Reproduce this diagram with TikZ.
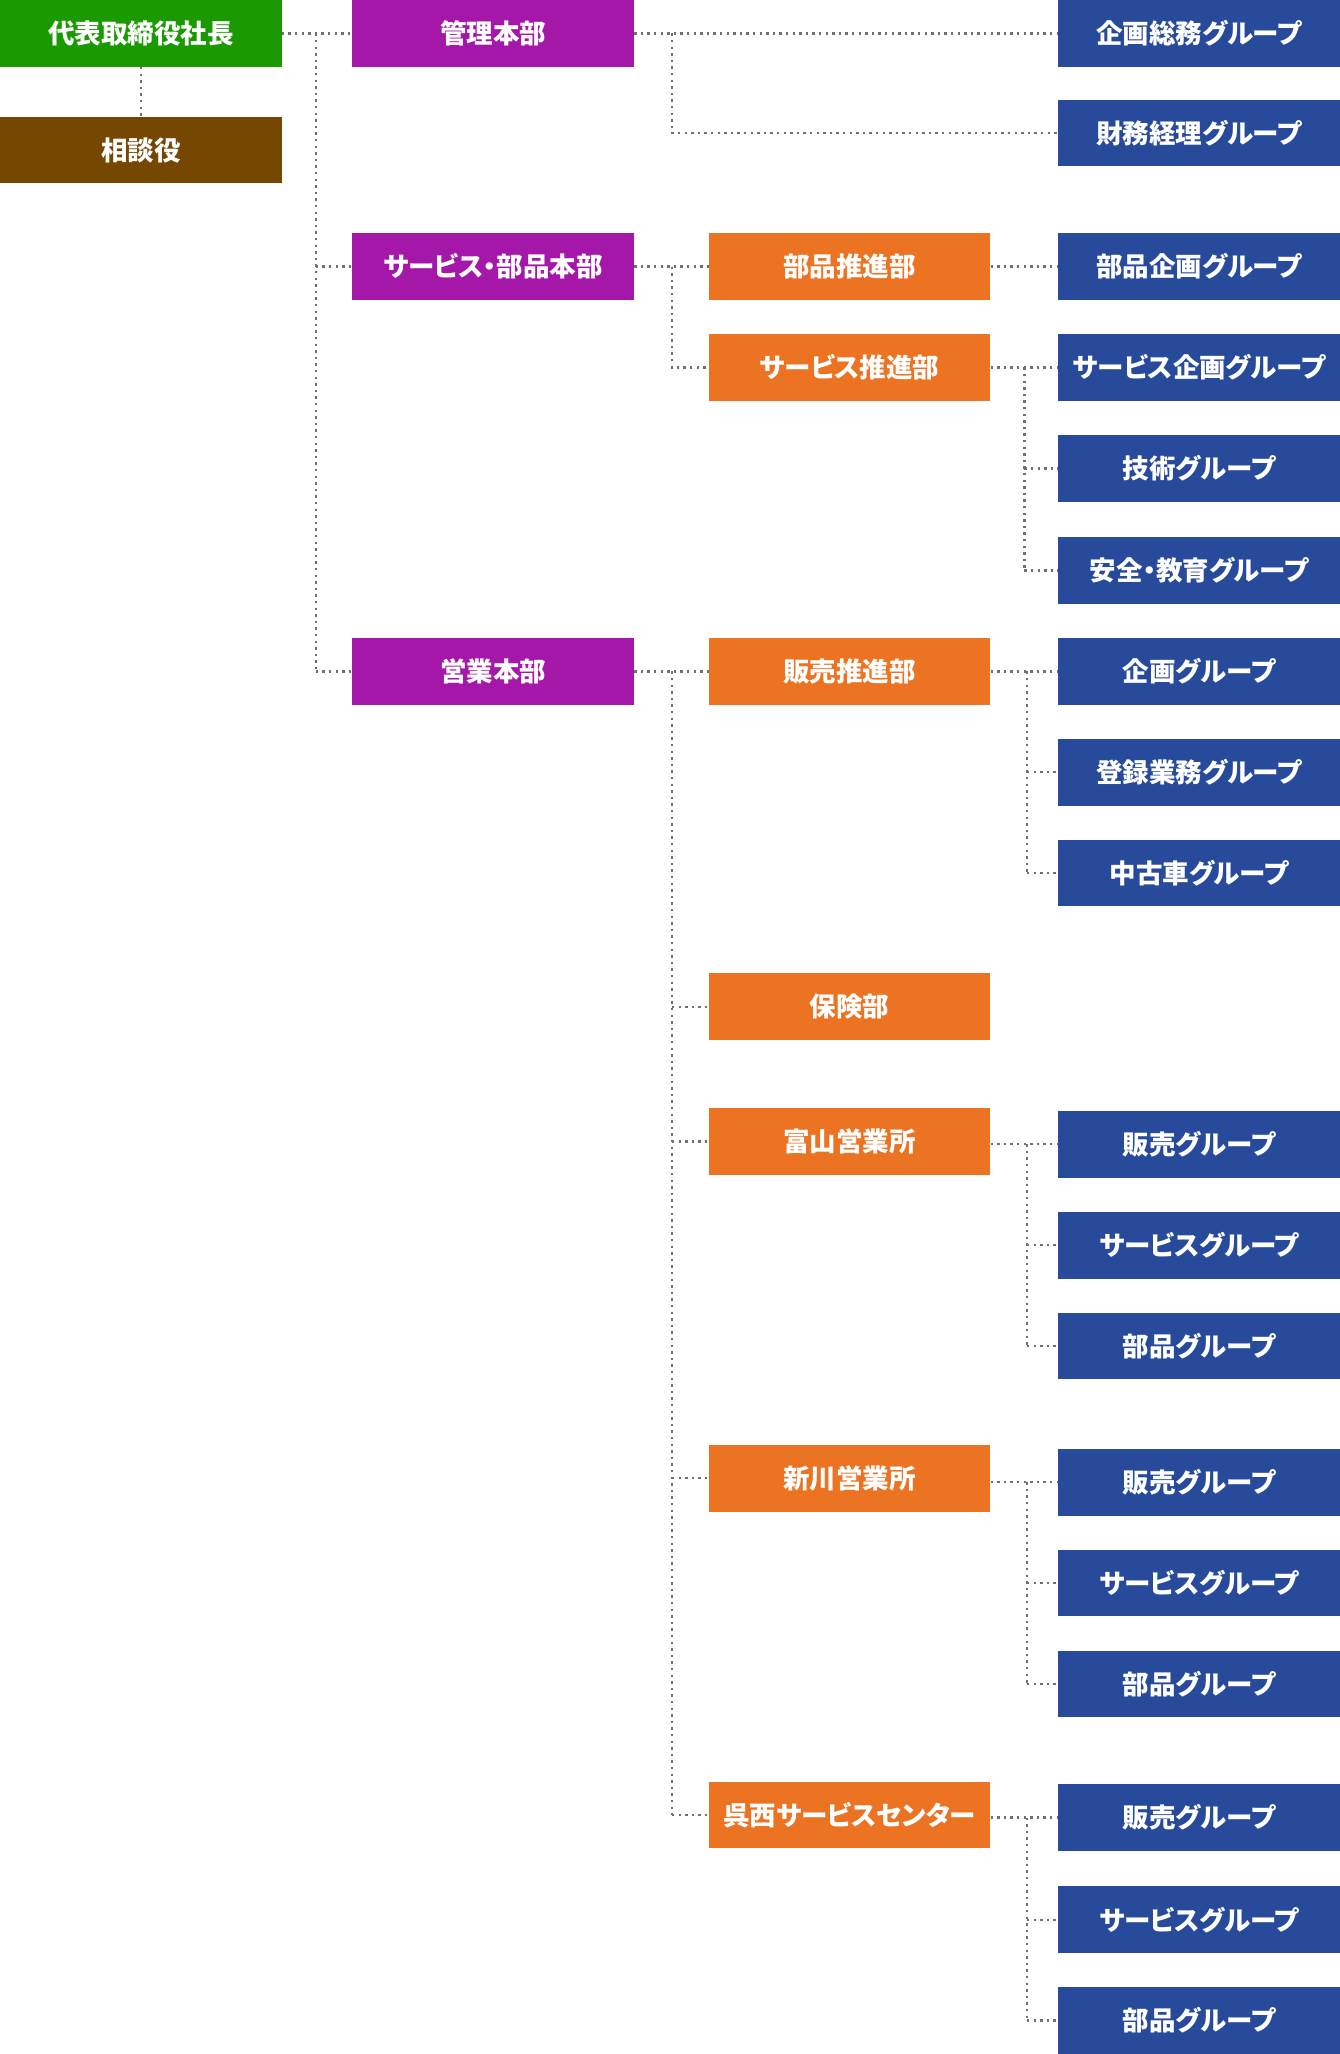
\documentclass[tikz,border=0pt]{standalone}
\usepackage{fontspec}
\setmainfont{Noto Sans CJK JP}[RawFeature=+palt]
\definecolor{cgreen}{HTML}{1A9A00}
\definecolor{cbrown}{HTML}{754700}
\definecolor{cpurple}{HTML}{A517A8}
\definecolor{corange}{HTML}{EC7322}
\definecolor{cblue}{HTML}{284A9A}
\definecolor{cline}{HTML}{707070}
\begin{document}
\begin{tikzpicture}[x=1pt,y=-1pt,
  box/.style={minimum width=281.6pt, minimum height=66.8pt, inner sep=0pt, text=white,
    font=\fontsize{26.5}{30}\selectfont\bfseries},
  top/.style={box, fill=cgreen},
  adv/.style={box, fill=cbrown},
  hq/.style={box, fill=cpurple},
  dept/.style={box, fill=corange},
  grp/.style={box, fill=cblue},
  conn/.style={draw=cline, line width=2.4pt, dash pattern=on 2.4pt off 4.2pt}]
\useasboundingbox (0,0) rectangle (1340,2054);
% column 1
\node[top] (ceo) at (140.8,33.4) {代表取締役社長};
\node[adv] (advn) at (140.8,150.0) {相談役};
% column 2
\node[hq] (kanri) at (493.2,33.4) {管理本部};
\node[hq] (svc) at (493.2,266.6) {サービス・部品本部};
\node[hq] (eigyo) at (493.2,671.3) {営業本部};
% column 3
\node[dept] (buhinsui) at (849.5,266.6) {部品推進部};
\node[dept] (svcsui) at (849.5,367.4) {サービス推進部};
\node[dept] (hansui) at (849.5,671.3) {販売推進部};
\node[dept] (hoken) at (849.5,1006.7) {保険部};
\node[dept] (toyama) at (849.5,1141.6) {富山営業所};
\node[dept] (niikawa) at (849.5,1478.2) {新川営業所};
\node[dept] (kosei) at (849.5,1814.9) {呉西サービスセンター};
% column 4
\node[grp] (g1) at (1199.2,33.4) {企画総務グループ};
\node[grp] (g2) at (1199.2,133.0) {財務経理グループ};
\node[grp] (g3) at (1199.2,266.6) {部品企画グループ};
\node[grp] (g4) at (1199.2,367.4) {サービス企画グループ};
\node[grp] (g5) at (1199.2,468.3) {技術グループ};
\node[grp] (g6) at (1199.2,570.5) {安全・教育グループ};
\node[grp] (g7) at (1199.2,671.3) {企画グループ};
\node[grp] (g8) at (1199.2,772.2) {登録業務グループ};
\node[grp] (g9) at (1199.2,873.0) {中古車グループ};
\node[grp] (g10) at (1199.2,1144.2) {販売グループ};
\node[grp] (g11) at (1199.2,1245.1) {サービスグループ};
\node[grp] (g12) at (1199.2,1345.9) {部品グループ};
\node[grp] (g13) at (1199.2,1482.2) {販売グループ};
\node[grp] (g14) at (1199.2,1583.0) {サービスグループ};
\node[grp] (g15) at (1199.2,1683.9) {部品グループ};
\node[grp] (g16) at (1199.2,1817.5) {販売グループ};
\node[grp] (g17) at (1199.2,1919.7) {サービスグループ};
\node[grp] (g18) at (1199.2,2020.5) {部品グループ};
% junctions
\coordinate (t0) at (315.7,33.4);
\coordinate (j1) at (672,33.4);
\coordinate (j2) at (672,266.6);
\coordinate (j3) at (1024.3,367.4);
\coordinate (j4) at (672,671.3);
\coordinate (j5) at (1027,671.3);
\coordinate (j6) at (1027,1144.2);
\coordinate (j7) at (1027,1482.2);
\coordinate (j8) at (1027,1817.5);
% connectors
\draw[conn] (ceo.south) -- (advn.north);
\draw[conn] (ceo.east) -- (kanri.west);
\draw[conn] (t0) -- (t0 |- eigyo.west);
\draw[conn] (t0 |- svc.west) -- (svc.west);
\draw[conn] (t0 |- eigyo.west) -- (eigyo.west);
\draw[conn] (kanri.east) -- (g1.west);
\draw[conn] (j1) -- (j1 |- g2.west) -- (g2.west);
\draw[conn] (svc.east) -- (buhinsui.west);
\draw[conn] (j2) -- (j2 |- svcsui.west) -- (svcsui.west);
\draw[conn] (buhinsui.east) -- (g3.west);
\draw[conn] (svcsui.east) -- (g4.west);
\draw[conn] (j3) -- (j3 |- g6.west);
\draw[conn] (j3 |- g5.west) -- (g5.west);
\draw[conn] (j3 |- g6.west) -- (g6.west);
\draw[conn] (eigyo.east) -- (hansui.west);
\draw[conn] (j4) -- (j4 |- kosei.west);
\draw[conn] (j4 |- hoken.west) -- (hoken.west);
\draw[conn] (j4 |- toyama.west) -- (toyama.west);
\draw[conn] (j4 |- niikawa.west) -- (niikawa.west);
\draw[conn] (j4 |- kosei.west) -- (kosei.west);
\draw[conn] (hansui.east) -- (g7.west);
\draw[conn] (j5) -- (j5 |- g9.west);
\draw[conn] (j5 |- g8.west) -- (g8.west);
\draw[conn] (j5 |- g9.west) -- (g9.west);
\draw[conn] (toyama.east |- g10.west) -- (g10.west);
\draw[conn] (j6) -- (j6 |- g12.west);
\draw[conn] (j6 |- g11.west) -- (g11.west);
\draw[conn] (j6 |- g12.west) -- (g12.west);
\draw[conn] (niikawa.east |- g13.west) -- (g13.west);
\draw[conn] (j7) -- (j7 |- g15.west);
\draw[conn] (j7 |- g14.west) -- (g14.west);
\draw[conn] (j7 |- g15.west) -- (g15.west);
\draw[conn] (kosei.east |- g16.west) -- (g16.west);
\draw[conn] (j8) -- (j8 |- g18.west);
\draw[conn] (j8 |- g17.west) -- (g17.west);
\draw[conn] (j8 |- g18.west) -- (g18.west);
\end{tikzpicture}
\end{document}
